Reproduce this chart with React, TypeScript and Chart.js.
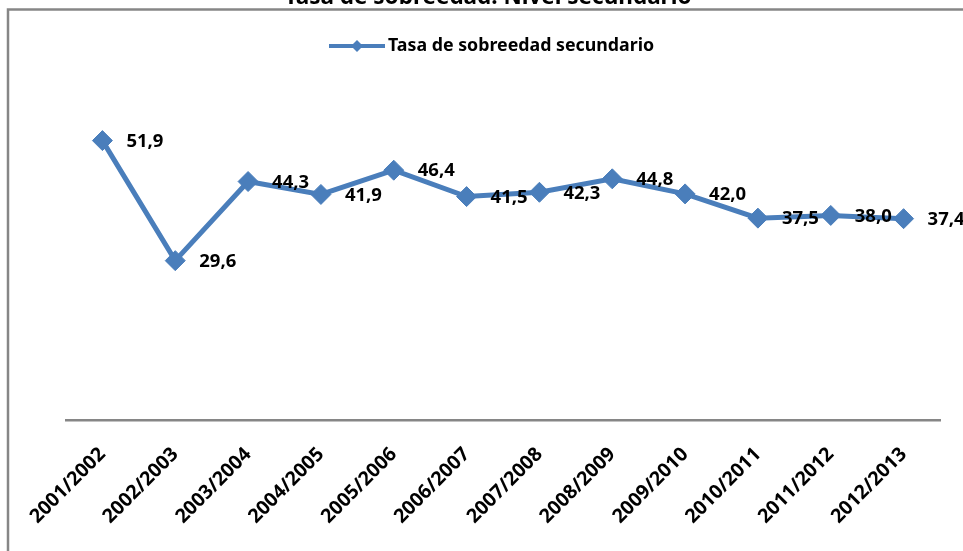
import React, { useEffect, useRef } from "react";
import { Chart, registerables } from "chart.js";

Chart.register(...registerables);

const categories = [
  "2001/2002", "2002/2003", "2003/2004", "2004/2005", "2005/2006", "2006/2007",
  "2007/2008", "2008/2009", "2009/2010", "2010/2011", "2011/2012", "2012/2013",
];
const sobreedad = [51.9, 29.6, 44.3, 41.9, 46.4, 41.5, 42.3, 44.8, 42.0, 37.5, 38.0, 37.4];
const seriesName = "Tasa de sobreedad secundario";
const chartTitle = "Tasa de sobreedad. Nivel secundario";
const yMin = 0;
const yMax = 60;

const BLUE = "#4A7EBB";
const FONT = "'Noto Sans', sans-serif";

const decorPlugin = {
  id: "decor",
  beforeDraw(chart: any) {
    const ctx = chart.ctx;
    ctx.save();
    ctx.strokeStyle = "#868686";
    ctx.lineWidth = 2.5;
    ctx.strokeRect(8, 9.5, chart.width + 20, chart.height + 20);
    ctx.restore();
  },
  afterDraw(chart: any) {
    const ctx = chart.ctx;
    ctx.save();
    // title (cut at top as in the reference)
    ctx.fillStyle = "#000";
    ctx.font = `bold 22.5px ${FONT}`;
    ctx.textAlign = "center";
    ctx.textBaseline = "alphabetic";
    ctx.fillText(chartTitle, 488, 4);
    // legend
    const ly = 46;
    ctx.strokeStyle = BLUE;
    ctx.lineWidth = 4;
    ctx.beginPath();
    ctx.moveTo(329, ly);
    ctx.lineTo(385, ly);
    ctx.stroke();
    ctx.fillStyle = BLUE;
    ctx.beginPath();
    const r = 6;
    ctx.moveTo(357, ly - r);
    ctx.lineTo(357 + r, ly);
    ctx.lineTo(357, ly + r);
    ctx.lineTo(357 - r, ly);
    ctx.closePath();
    ctx.fill();
    ctx.fillStyle = "#000";
    ctx.font = `bold 17.8px ${FONT}`;
    ctx.textAlign = "left";
    ctx.textBaseline = "middle";
    ctx.fillText(seriesName, 388, ly);
    ctx.restore();
  },
  afterDatasetsDraw(chart: any) {
    const ctx = chart.ctx;
    const meta = chart.getDatasetMeta(0);
    ctx.save();
    ctx.fillStyle = "#000";
    ctx.font = `bold 18.5px ${FONT}`;
    ctx.textAlign = "left";
    ctx.textBaseline = "middle";
    meta.data.forEach((pt: any, i: number) => {
      const v = chart.data.datasets[0].data[i] as number;
      ctx.fillText(v.toFixed(1).replace(".", ","), pt.x + 24, pt.y + 1);
    });
    ctx.restore();
  },
};

export default function App() {
  const ref = useRef<HTMLCanvasElement>(null);
  useEffect(() => {
    if (!ref.current) return;
    Chart.defaults.font.family = FONT;
    const chart = new Chart(ref.current, {
      type: "line",
      data: {
        labels: categories,
        datasets: [
          {
            label: seriesName,
            data: sobreedad,
            borderColor: BLUE,
            backgroundColor: BLUE,
            borderWidth: 5,
            pointStyle: "rectRot",
            pointRadius: 10,
            pointBorderWidth: 1,
            pointBackgroundColor: BLUE,
            pointBorderColor: BLUE,
            tension: 0,
          },
        ],
      },
      options: {
        animation: false,
        responsive: false,
        devicePixelRatio: 1,
        layout: { padding: { left: 66, right: 23, top: 97, bottom: 0 } },
        plugins: {
          legend: { display: false },
          title: { display: false },
          tooltip: { enabled: false },
        },
        scales: {
          x: {
            offset: true,
            grid: { display: false },
            border: { display: true, color: "#868686", width: 2.5 },
            ticks: {
              minRotation: 45,
              maxRotation: 45,
              color: "#000",
              padding: 15,
              font: { family: FONT, size: 19.5, weight: "bold" },
            },
            afterFit(scale: any) {
              scale.height = 131;
            },
          },
          y: {
            display: false,
            min: yMin,
            max: yMax,
          },
        },
      },
      plugins: [decorPlugin],
    });
    return () => chart.destroy();
  }, []);
  return (
    <div style={{ position: "absolute", left: 0, top: 0, width: 963, height: 551 }}>
      <canvas ref={ref} width={963} height={551} />
    </div>
  );
}
